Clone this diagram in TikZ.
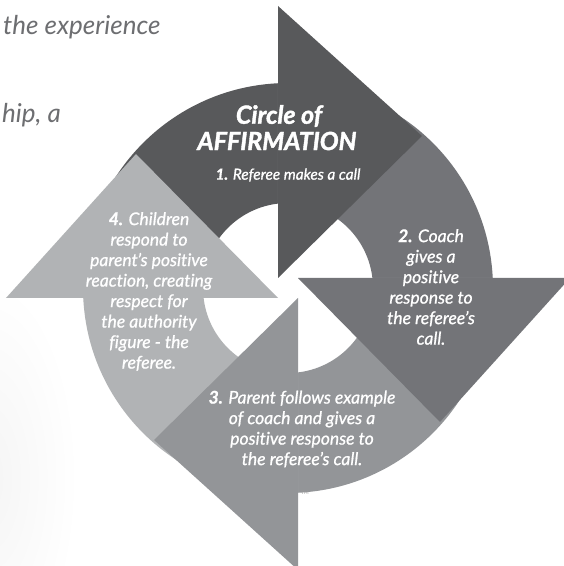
\documentclass[tikz,border=0pt]{standalone}
\usepackage{fontspec}
\setmainfont{Lato}[Ligatures={NoCommon}]
\newfontfamily\heavyfont{Lato}[FakeBold=1.6, Ligatures={NoCommon}]
\newfontfamily\stepfont{Lato}[FakeBold=0.9, Ligatures={NoCommon}]
\definecolor{cone}{HTML}{58595B}
\definecolor{ctwo}{HTML}{737478}
\definecolor{cthree}{HTML}{939598}
\definecolor{cfour}{HTML}{B1B3B5}
\definecolor{pagegray}{HTML}{6D6E71}
\tikzset{
  bodypath/.pic={
    \fill[pic actions] (182.8:205bp) arc[start angle=182.8, end angle=92.8, radius=205bp]
      -- (96.76:85bp) arc[start angle=96.76, end angle=186.76, radius=85bp] -- cycle;
  },
  headpath/.pic={
    \fill[pic actions] (-10,10) -- (-10,282) -- (134,152) -- cycle;
  },
  titletext/.style={text=white, inner sep=0, font=\heavyfont\bfseries\itshape\fontsize{25bp}{28bp}\selectfont},
  steptext/.style={text=white, inner sep=0, align=center, font=\stepfont\itshape\fontsize{17.5bp}{20.5bp}\selectfont},
  stepone/.style={text=white, inner sep=0, align=center, font=\stepfont\itshape\fontsize{15.3bp}{18bp}\selectfont},
  pagetext/.style={text=pagegray, inner sep=0, anchor=base west, font=\itshape\fontsize{26bp}{30bp}\selectfont}
}
\begin{document}
\begin{tikzpicture}[x=1bp,y=1bp]
\useasboundingbox (-288,-278) rectangle (276,288);
\fill[white] (-288,-278) rectangle (276,288);
\shade[inner color=black!4, outer color=white] (-300,-190) ellipse[x radius=90bp, y radius=200bp];
% page text behind
\node[pagetext] (p1) at (-285,253) {the experience};
\node[pagetext] (p2) at (-286,165) {hip, a};
% bodies
\pic[cone] {bodypath};
\pic[ctwo, rotate=-90] {bodypath};
\pic[cthree, rotate=-180] {bodypath};
\pic[cfour, rotate=90] {bodypath};
% heads
\pic[cone] {headpath};
\pic[ctwo, rotate=-90] {headpath};
\pic[cthree, rotate=-180] {headpath};
\pic[cfour, rotate=90] {headpath};
% texts
\node[titletext] (t1) at (-9,172) {Circle of};
\node[titletext] (t2) at (-11,147) {AFFIRMATION};
\node[stepone] (s1) at (0,113) {\textbf{1.} Referee makes a call};
\node[steptext] (s2) at (143,1) {\textbf{2.} Coach\\gives a\\positive\\response to\\the referee’s\\call.};
\node[steptext] (s4) at (-139,-3.5) {\textbf{4.} Children\\respond to\\parent’s positive\\reaction, creating\\respect for\\the authority\\figure - the\\referee.};
\node[steptext] (s3) at (14,-141) {\textbf{3.} Parent follows example\\of coach and gives a\\positive response to\\the referee’s call.};
\node[text=black!40, inner sep=0, font=\fontsize{5bp}{6bp}\selectfont] (tm) at (17,-205) {TM};
\end{tikzpicture}
\end{document}
